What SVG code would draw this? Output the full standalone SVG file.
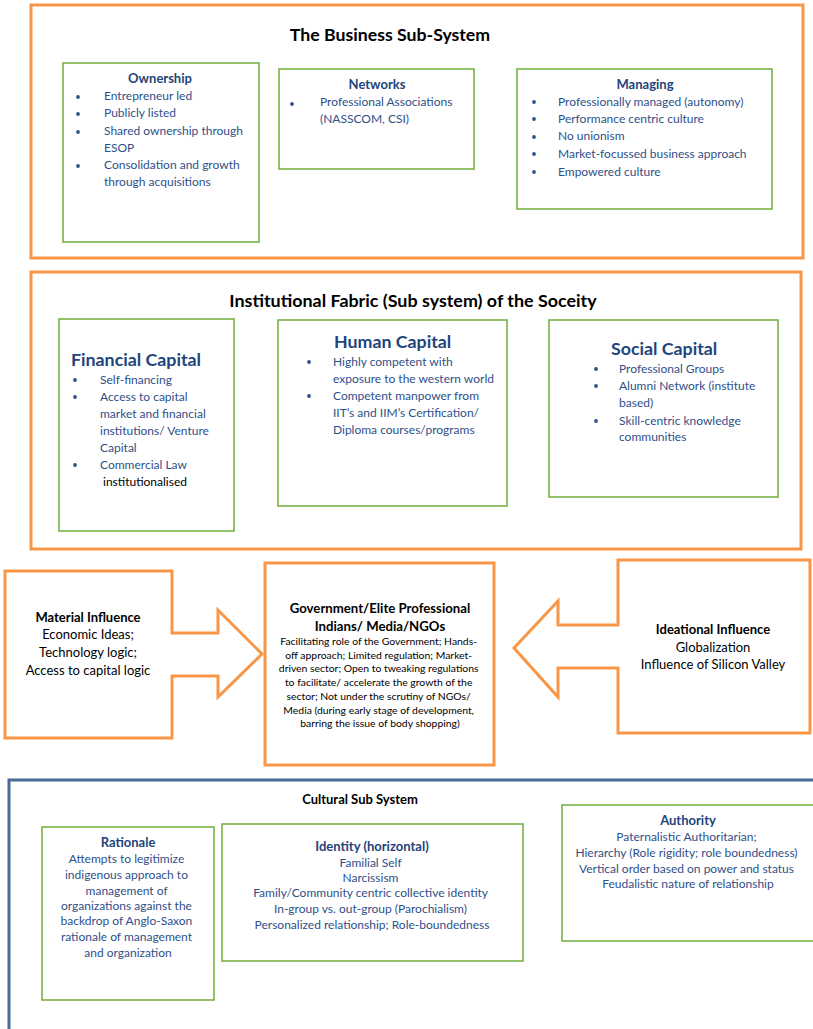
<svg xmlns="http://www.w3.org/2000/svg" width="813" height="1029" viewBox="0 0 813 1029">
  <style>
    text { font-family: Lato, "Open Sans", "Liberation Sans", sans-serif; }
    .frame { fill: none; stroke: #F79646; stroke-width: 3; }
    .blueframe { fill: none; stroke: #4A6A98; stroke-width: 3; }
    .box { fill: #FFFFFF; stroke: #77B244; stroke-width: 1.6; }
    .arrow { fill: #FFFFFF; stroke: #F79646; stroke-width: 3; stroke-linejoin: miter; }
    .head { font-weight: bold; fill: #000000; }
    .ttl { font-weight: bold; fill: #23447A; }
    .txt { fill: #2F4F8A; font-size: 12px; }
    .blk { fill: #000000; }
    .dot { fill: #2F4F8A; }
    .mid { text-anchor: middle; }
  </style>

  <!-- Business sub-system -->
  <g id="business-subsystem">
    <rect class="frame" x="31" y="5" width="772" height="253"/>
    <text class="head mid" x="390" y="41" font-size="17.7">The Business Sub-System</text>
  </g>

  <g id="ownership">
    <rect class="box" x="63" y="63" width="196" height="179"/>
    <text class="ttl mid" x="160" y="83" font-size="13">Ownership</text>
    <circle class="dot" cx="78" cy="97" r="1.9"/>
    <circle class="dot" cx="78" cy="114" r="1.9"/>
    <circle class="dot" cx="78" cy="132" r="1.9"/>
    <circle class="dot" cx="78" cy="166" r="1.9"/>
    <text class="txt" x="104" y="100">Entrepreneur led</text>
    <text class="txt" x="104" y="117">Publicly listed</text>
    <text class="txt" x="104" y="135">Shared ownership through</text>
    <text class="txt" x="104" y="152">ESOP</text>
    <text class="txt" x="104" y="169">Consolidation and growth</text>
    <text class="txt" x="104" y="186">through acquisitions</text>
  </g>

  <g id="networks">
    <rect class="box" x="279" y="69" width="195" height="100"/>
    <text class="ttl mid" x="377" y="89" font-size="13">Networks</text>
    <circle class="dot" cx="292" cy="104" r="1.9"/>
    <text class="txt" x="320" y="106">Professional Associations</text>
    <text class="txt" x="320" y="123">(NASSCOM, CSI)</text>
  </g>

  <g id="managing">
    <rect class="box" x="517" y="69" width="255" height="140"/>
    <text class="ttl mid" x="645" y="89" font-size="13">Managing</text>
    <circle class="dot" cx="534" cy="102" r="1.9"/>
    <circle class="dot" cx="534" cy="119" r="1.9"/>
    <circle class="dot" cx="534" cy="137" r="1.9"/>
    <circle class="dot" cx="534" cy="154" r="1.9"/>
    <circle class="dot" cx="534" cy="172" r="1.9"/>
    <text class="txt" x="558" y="106">Professionally managed (autonomy)</text>
    <text class="txt" x="558" y="123">Performance centric culture</text>
    <text class="txt" x="558" y="140">No unionism</text>
    <text class="txt" x="558" y="158">Market-focussed business approach</text>
    <text class="txt" x="558" y="176">Empowered culture</text>
  </g>

  <!-- Institutional fabric -->
  <g id="institutional-fabric">
    <rect class="frame" x="31" y="272" width="770" height="277"/>
    <text class="head mid" x="413" y="307" font-size="17.9">Institutional Fabric (Sub system) of the Soceity</text>
  </g>

  <g id="financial-capital">
    <rect class="box" x="59" y="319" width="175" height="212"/>
    <text class="ttl" x="71" y="366" font-size="17.8">Financial Capital</text>
    <circle class="dot" cx="75" cy="380" r="1.9"/>
    <circle class="dot" cx="75" cy="397" r="1.9"/>
    <circle class="dot" cx="75" cy="465" r="1.9"/>
    <text class="txt" x="100" y="384">Self-financing</text>
    <text class="txt" x="100" y="401">Access to capital</text>
    <text class="txt" x="100" y="418">market and financial</text>
    <text class="txt" x="100" y="435">institutions/ Venture</text>
    <text class="txt" x="100" y="452">Capital</text>
    <text class="txt" x="100" y="469">Commercial Law</text>
    <text class="txt blk" x="103" y="486">institutionalised</text>
  </g>

  <g id="human-capital">
    <rect class="box" x="278" y="320" width="229" height="186"/>
    <text class="ttl" x="334" y="348" font-size="17.8">Human Capital</text>
    <circle class="dot" cx="309" cy="362" r="1.9"/>
    <circle class="dot" cx="309" cy="396" r="1.9"/>
    <text class="txt" x="333" y="366">Highly competent with</text>
    <text class="txt" x="333" y="383">exposure to the western world</text>
    <text class="txt" x="333" y="400">Competent manpower from</text>
    <text class="txt" x="333" y="417">IIT’s and IIM’s Certification/</text>
    <text class="txt" x="333" y="434">Diploma courses/programs</text>
  </g>

  <g id="social-capital">
    <rect class="box" x="549" y="320" width="229" height="177"/>
    <text class="ttl" x="611" y="355" font-size="17.8">Social Capital</text>
    <circle class="dot" cx="596" cy="369" r="1.9"/>
    <circle class="dot" cx="596" cy="386" r="1.9"/>
    <circle class="dot" cx="596" cy="421" r="1.9"/>
    <text class="txt" x="619" y="373">Professional Groups</text>
    <text class="txt" x="619" y="390">Alumni Network (institute</text>
    <text class="txt" x="619" y="407">based)</text>
    <text class="txt" x="619" y="425">Skill-centric knowledge</text>
    <text class="txt" x="619" y="441">communities</text>
  </g>

  <!-- Influences and the central actor -->
  <g id="connectors">
    <path class="arrow" d="M5,571 H172 V633 H218 V610 L262,654 L218,697 V676 H172 V738 H5 Z"/>
    <path class="arrow" d="M810,560 H618 V625 H558 V601 L514,648 L558,697 V668 H618 V733 H810 Z"/>
  </g>

  <g id="material-influence">
    <text class="head mid" x="88" y="622" font-size="13">Material Influence</text>
    <text class="blk mid" x="88" y="639" font-size="13">Economic Ideas;</text>
    <text class="blk mid" x="88" y="657" font-size="13">Technology logic;</text>
    <text class="blk mid" x="88" y="675" font-size="13">Access to capital logic</text>
  </g>

  <g id="government">
    <rect class="frame" x="265" y="563" width="229" height="202" fill="#FFFFFF"/>
    <text class="head mid" x="380" y="613" font-size="13.2">Government/Elite Professional</text>
    <text class="head mid" x="380" y="631" font-size="13.2">Indians/ Media/NGOs</text>
    <text class="blk mid" font-size="10.4">
      <tspan x="380" y="645">Facilitating role of the Government; Hands-</tspan>
      <tspan x="380" y="659">off approach; Limited regulation; Market-</tspan>
      <tspan x="380" y="672">driven sector; Open to tweaking regulations</tspan>
      <tspan x="380" y="686">to facilitate/ accelerate the growth of the</tspan>
      <tspan x="380" y="700">sector; Not under the scrutiny of NGOs/</tspan>
      <tspan x="380" y="714">Media (during early stage of development,</tspan>
      <tspan x="380" y="727">barring the issue of body shopping)</tspan>
    </text>
  </g>

  <g id="ideational-influence">
    <text class="head mid" x="713" y="634" font-size="13">Ideational Influence</text>
    <text class="blk mid" x="713" y="652" font-size="13">Globalization</text>
    <text class="blk mid" x="713" y="669" font-size="13">Influence of Silicon Valley</text>
  </g>

  <!-- Cultural sub-system -->
  <g id="cultural-subsystem">
    <path class="blueframe" d="M9,1029 V780 H813"/>
    <text class="head mid" x="360" y="804" font-size="13">Cultural Sub System</text>
  </g>

  <g id="rationale">
    <rect class="box" x="42" y="827" width="172" height="173"/>
    <text class="ttl mid" x="128" y="847" font-size="13">Rationale</text>
    <text class="txt mid">
      <tspan x="128" y="863">Attempts to legitimize</tspan>
      <tspan x="128" y="879">indigenous approach to</tspan>
      <tspan x="128" y="895">management of</tspan>
      <tspan x="128" y="910">organizations against the</tspan>
      <tspan x="128" y="925">backdrop of Anglo-Saxon</tspan>
      <tspan x="128" y="941">rationale of management</tspan>
      <tspan x="128" y="957">and organization</tspan>
    </text>
  </g>

  <g id="identity">
    <rect class="box" x="222" y="824" width="301" height="137"/>
    <text class="ttl mid" x="372" y="851" font-size="13">Identity (horizontal)</text>
    <text class="txt mid">
      <tspan x="372" y="867">Familial Self</tspan>
      <tspan x="372" y="882">Narcissism</tspan>
      <tspan x="372" y="897">Family/Community centric collective identity</tspan>
      <tspan x="372" y="913">In-group vs. out-group (Parochialism)</tspan>
      <tspan x="372" y="929">Personalized relationship; Role-boundedness</tspan>
    </text>
  </g>

  <g id="authority">
    <rect class="box" x="562" y="805" width="253" height="136"/>
    <text class="ttl mid" x="688" y="825" font-size="13">Authority</text>
    <text class="txt mid">
      <tspan x="688" y="841">Paternalistic Authoritarian;</tspan>
      <tspan x="688" y="857">Hierarchy (Role rigidity; role boundedness)</tspan>
      <tspan x="688" y="873">Vertical order based on power and status</tspan>
      <tspan x="688" y="888">Feudalistic nature of relationship</tspan>
    </text>
  </g>
</svg>
